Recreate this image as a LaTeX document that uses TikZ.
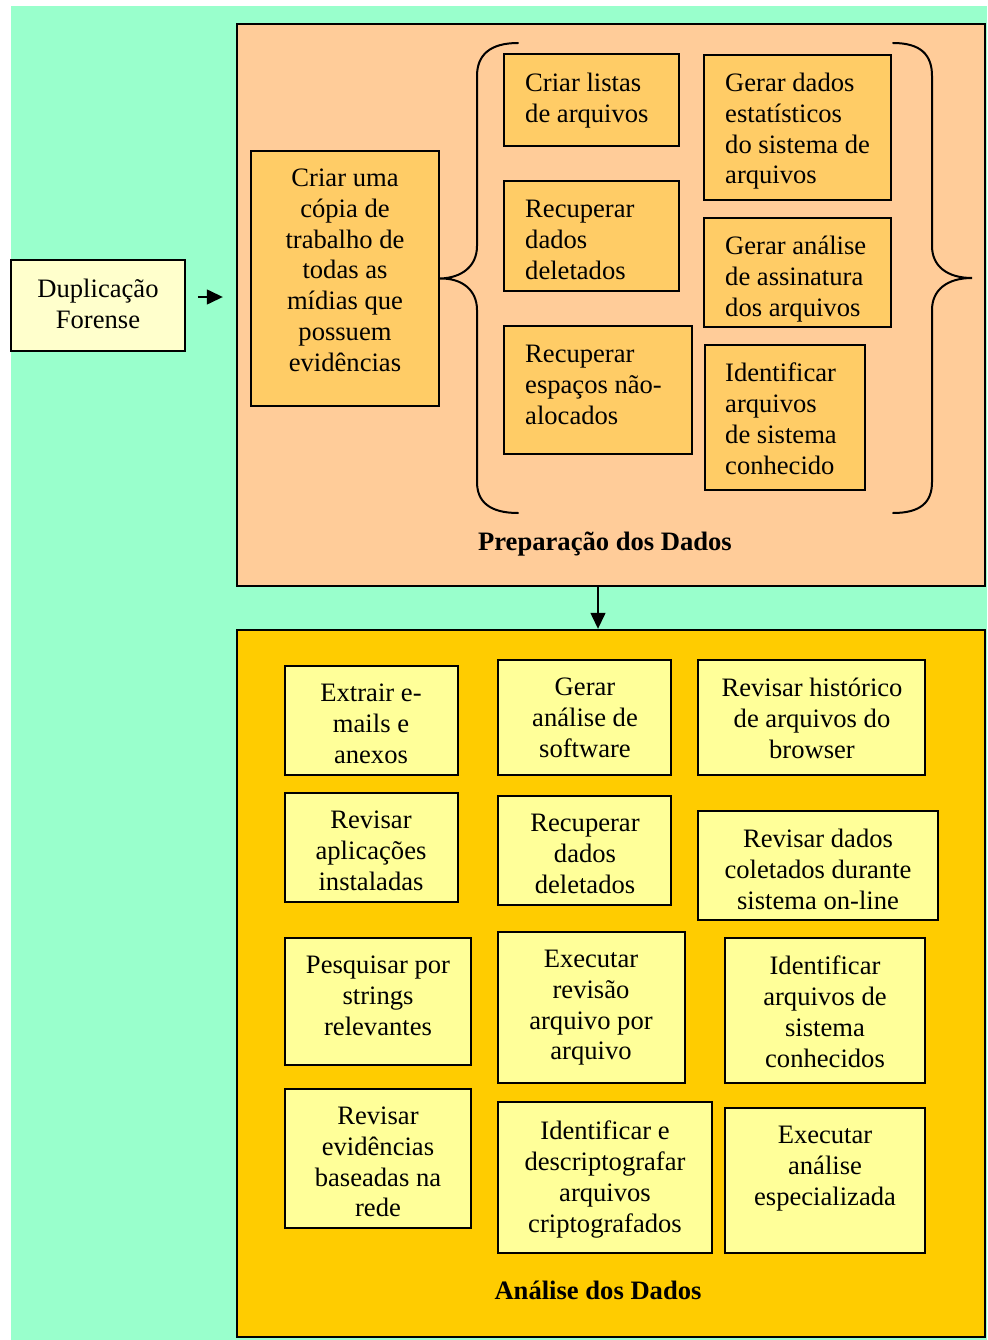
\documentclass[tikz,border=0pt]{standalone}
\usepackage{fontspec}
\setmainfont{Liberation Serif}
\usetikzlibrary{arrows.meta,fit,calc}
\definecolor{bgmint}{HTML}{99FFCC}
\definecolor{peach}{HTML}{FFCC99}
\definecolor{apricot}{HTML}{FFCC66}
\definecolor{gold}{HTML}{FFCC00}
\definecolor{paleyellow}{HTML}{FFFF99}
\definecolor{cream}{HTML}{FFFFCC}
\tikzset{
  panel/.style={draw=black, line width=2.4pt, inner sep=0pt},
  stepbox/.style={draw=black, line width=1.8pt, inner sep=0pt},
  txt/.style={font=\fontsize{26.6}{30.7}\selectfont, inner sep=0pt, text=black, yshift=-2pt},
  ltxt/.style={txt, align=left, anchor=north west},
  ctxt/.style={txt, align=center, anchor=north},
  title/.style={font=\fontsize{26.6}{30.7}\selectfont\bfseries, inner sep=0pt, anchor=base},
  arr/.style={line width=1.4pt, -{Triangle[length=16pt,width=15pt]}},
  brace/.style={line width=2pt, line cap=round}
}
\begin{document}
\begin{tikzpicture}[x=1pt,y=-1pt]
\useasboundingbox (0,0) rectangle (987,1340);
\fill[bgmint] (11,6) rectangle (987,1340);

% panels
\node[panel, fill=peach, fit={(237,24) (985,586)}] (prep) {};
\node[panel, fill=gold, fit={(237,630) (985,1337)}] (anal) {};

% first step
\node[stepbox, fill=cream, fit={(11,260) (185,351)}] (dup) {};
\node[ctxt] (dupt) at (98,277) {Duplicação\\Forense};

% data preparation
\node[stepbox, fill=apricot, fit={(251,151) (439,406)}] (copia) {};
\node[ctxt] (copiat) at (345,167) {Criar uma\\cópia de\\trabalho de\\todas as\\mídias que\\possuem\\evidências};

\node[stepbox, fill=apricot, fit={(504,54) (679,146)}] (p1) {};
\node[ltxt] (p1t) at (525,71) {Criar listas\\de arquivos};
\node[stepbox, fill=apricot, fit={(704,55) (891,200)}] (p2) {};
\node[ltxt] (p2t) at (725,71) {Gerar dados\\estatísticos\\do sistema de\\arquivos};
\node[stepbox, fill=apricot, fit={(504,181) (679,291)}] (p3) {};
\node[ltxt] (p3t) at (525,198) {Recuperar\\dados\\deletados};
\node[stepbox, fill=apricot, fit={(704,218) (891,327)}] (p4) {};
\node[ltxt] (p4t) at (725,234) {Gerar análise\\de assinatura\\dos arquivos};
\node[stepbox, fill=apricot, fit={(504,326) (692,454)}] (p5) {};
\node[ltxt] (p5t) at (525,343) {Recuperar\\espaços não-\\alocados};
\node[stepbox, fill=apricot, fit={(705,345) (865,490)}] (p6) {};
\node[ltxt] (p6t) at (725,361) {Identificar\\arquivos\\de sistema\\conhecido};

% braces
\draw[brace] (518,43) .. controls (490,43) and (477,55) .. (477,76) -- (477,246)
  .. controls (477,266) and (462,278) .. (copia.east)
  .. controls (462,278) and (477,290) .. (477,310) -- (477,482)
  .. controls (477,502) and (490,513) .. (518,513);
\draw[brace] (893,43) .. controls (921,43) and (932,55) .. (932,76) -- (932,246)
  .. controls (932,266) and (947,278) .. (972,278)
  .. controls (947,278) and (932,290) .. (932,310) -- (932,482)
  .. controls (932,502) and (921,513) .. (893,513);

\node[title] (prept) at (605,550) {Preparação dos Dados};

% data analysis
\node[stepbox, fill=paleyellow, fit={(285,666) (458,775)}] (e1) {};
\node[ctxt] (e1t) at (371,682) {Extrair e-\\mails e\\anexos};
\node[stepbox, fill=paleyellow, fit={(498,660) (671,775)}] (e2) {};
\node[ctxt] (e2t) at (585,676) {Gerar\\análise de\\software};
\node[stepbox, fill=paleyellow, fit={(698,660) (925,775)}] (e3) {};
\node[ctxt] (e3t) at (812,676) {Revisar histórico\\de arquivos do\\browser};

\node[stepbox, fill=paleyellow, fit={(285,793) (458,902)}] (e4) {};
\node[ctxt] (e4t) at (371,809) {Revisar\\aplicações\\instaladas};
\node[stepbox, fill=paleyellow, fit={(498,796) (671,905)}] (e5) {};
\node[ctxt] (e5t) at (585,812) {Recuperar\\dados\\deletados};
\node[stepbox, fill=paleyellow, fit={(698,811) (938,920)}] (e6) {};
\node[ctxt] (e6t) at (818,827) {Revisar dados\\coletados durante\\sistema on-line};

\node[stepbox, fill=paleyellow, fit={(285,938) (471,1065)}] (e7) {};
\node[ctxt] (e7t) at (378,954) {Pesquisar por\\strings\\relevantes};
\node[stepbox, fill=paleyellow, fit={(498,932) (685,1083)}] (e8) {};
\node[ctxt] (e8t) at (591,948) {Executar\\revisão\\arquivo por\\arquivo};
\node[stepbox, fill=paleyellow, fit={(725,938) (925,1083)}] (e9) {};
\node[ctxt] (e9t) at (825,954) {Identificar\\arquivos de\\sistema\\conhecidos};

\node[stepbox, fill=paleyellow, fit={(285,1089) (471,1228)}] (e10) {};
\node[ctxt] (e10t) at (378,1105) {Revisar\\evidências\\baseadas na\\rede};
\node[stepbox, fill=paleyellow, fit={(498,1102) (712,1253)}] (e11) {};
\node[ctxt] (e11t) at (605,1119) {Identificar e\\descriptografar\\arquivos\\criptografados};
\node[stepbox, fill=paleyellow, fit={(725,1108) (925,1253)}] (e12) {};
\node[ctxt] (e12t) at (825,1124) {Executar\\análise\\especializada};

\node[title] (analt) at (598,1299) {Análise dos Dados};

% flow arrows
\coordinate (ay) at (0,297);
\coordinate (ax) at (598,0);
\draw[arr, shorten <=12pt, shorten >=13pt] (dup.east |- ay) -- (prep.west |- ay);
\draw[arr] (prep.south -| ax) -- (anal.north -| ax);
\end{tikzpicture}
\end{document}
